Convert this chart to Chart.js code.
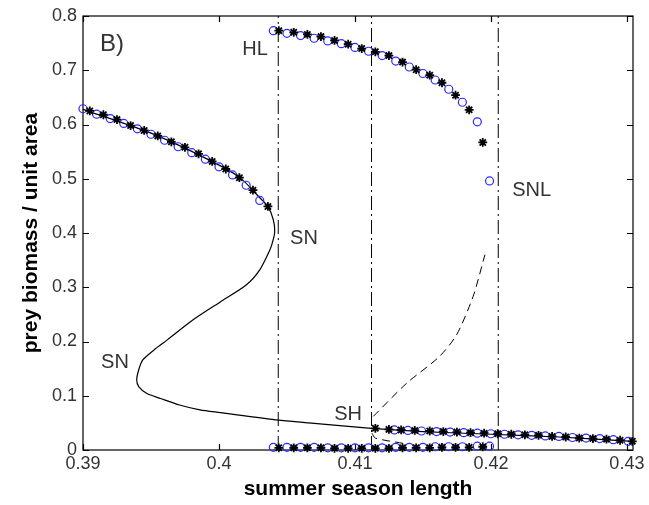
<!DOCTYPE html>
<html>
<head>
<meta charset="utf-8">
<script src="https://cdn.jsdelivr.net/npm/chart.js@4/dist/chart.umd.min.js"></script>
<style>
  html, body { margin: 0; padding: 0; background: #fff; }
</style>
</head>
<body>
<canvas id="chart-bif" width="649" height="505"></canvas>
<script>
// --- datos leidos de la figura B) ---

// rama estable superior (izquierda de HL)
const leftCircX = [0.3900, 0.3910, 0.3920, 0.3930, 0.3940, 0.3950, 0.3960, 0.3970, 0.3980, 0.3990, 0.4000, 0.4010, 0.4020, 0.4030];
const leftCircY = [0.629, 0.619, 0.611, 0.602, 0.592, 0.582, 0.571, 0.559, 0.548, 0.536, 0.522, 0.507, 0.488, 0.460];
const leftStarX = [0.3905, 0.3915, 0.3925, 0.3935, 0.3945, 0.3955, 0.3965, 0.3975, 0.3985, 0.3995, 0.4005, 0.4015, 0.4025, 0.4036];
const leftStarY = [0.625, 0.618, 0.609, 0.598, 0.589, 0.579, 0.568, 0.558, 0.546, 0.532, 0.518, 0.502, 0.479, 0.449];

// ciclo limite: maximos (HL -> SNL)
const cycCircX = [0.4040, 0.4050, 0.4060, 0.4070, 0.4080, 0.4090, 0.4100, 0.4110, 0.4120, 0.4130, 0.4140, 0.4150, 0.4159, 0.4169, 0.4179, 0.4190, 0.4199];
const cycCircY = [0.773, 0.768, 0.764, 0.759, 0.754, 0.749, 0.742, 0.735, 0.727, 0.717, 0.706, 0.694, 0.682, 0.665, 0.641, 0.605, 0.496];
const cycStarX = [0.4044, 0.4055, 0.4065, 0.4075, 0.4085, 0.4095, 0.4105, 0.4115, 0.4125, 0.4135, 0.4145, 0.4155, 0.4164, 0.4174, 0.4184, 0.4194];
const cycStarY = [0.773, 0.770, 0.766, 0.762, 0.755, 0.748, 0.740, 0.734, 0.727, 0.715, 0.701, 0.691, 0.677, 0.654, 0.627, 0.567];

// ciclo limite: minimos
const lowCircY = [0.005, 0.005, 0.005, 0.005, 0.004, 0.004, 0.004, 0.004, 0.004, 0.005, 0.005, 0.005, 0.006, 0.006, 0.006, 0.007, 0.007];
const lowStarY = [0.004, 0.004, 0.004, 0.004, 0.003, 0.003, 0.003, 0.003, 0.003, 0.004, 0.004, 0.004, 0.005, 0.005, 0.005, 0.006];

// rama estable inferior derecha (desde SH)
const rightStarX = [0.4115, 0.4125, 0.4134, 0.4144, 0.4155, 0.4165, 0.4175, 0.4185, 0.4195, 0.4205, 0.4215, 0.4225, 0.4235, 0.4245, 0.4255, 0.4265, 0.4275, 0.4285, 0.4295, 0.4304];
const rightStarY = [0.040, 0.038, 0.037, 0.036, 0.035, 0.034, 0.033, 0.032, 0.031, 0.030, 0.029, 0.028, 0.027, 0.025, 0.024, 0.022, 0.021, 0.020, 0.018, 0.016];
const rightCircX = [0.4129, 0.4139, 0.4149, 0.4160, 0.4170, 0.4180, 0.4190, 0.4200, 0.4210, 0.4220, 0.4230, 0.4240, 0.4250, 0.4260, 0.4270, 0.4280, 0.4290, 0.4301];
const rightCircY = [0.037, 0.036, 0.035, 0.034, 0.033, 0.032, 0.031, 0.030, 0.029, 0.028, 0.027, 0.026, 0.025, 0.023, 0.022, 0.021, 0.019, 0.016];

// curva de equilibrio (linea continua, con los dos SN)
const eqX = [0.3900, 0.3950, 0.3990, 0.4015, 0.4030, 0.4036, 0.4040, 0.4041, 0.40395, 0.40375, 0.4030, 0.4020, 0.4001, 0.3981, 0.3962, 0.3952, 0.3944, 0.3941, 0.39395, 0.3941, 0.3947, 0.3957, 0.3971, 0.3986, 0.4001, 0.4044, 0.4070, 0.4112, 0.4150, 0.4200, 0.4250, 0.4304];
const eqY = [0.628, 0.584, 0.538, 0.503, 0.465, 0.449, 0.424, 0.402, 0.384, 0.369, 0.332, 0.304, 0.273, 0.240, 0.203, 0.184, 0.166, 0.148, 0.129, 0.117, 0.104, 0.095, 0.083, 0.074, 0.069, 0.055, 0.049, 0.040, 0.034, 0.029, 0.024, 0.016];

// ciclo inestable (lineas discontinuas)
const unstMaxX = [0.41135, 0.4138, 0.4162, 0.41747, 0.41869, 0.41956];
const unstMaxY = [0.062, 0.123, 0.172, 0.212, 0.283, 0.360];
const unstMinX = [0.41125, 0.4115, 0.4136];
const unstMinY = [0.031, 0.022, 0.012];

// bifurcaciones (lineas verticales): HL, SH, SNL
const vlineX = [0.40436, 0.41122, 0.42054];

// ejes
const xTicks = [0.39, 0.40, 0.41, 0.42, 0.43];
const xTickLabels = ['0.39', '0.4', '0.41', '0.42', '0.43'];
const yTicks = [0, 0.1, 0.2, 0.3, 0.4, 0.5, 0.6, 0.7, 0.8];
const yTickLabels = ['0', '0.1', '0.2', '0.3', '0.4', '0.5', '0.6', '0.7', '0.8'];

// textos sobre el grafico (en coordenadas de datos)
const notas = [
    { text: 'B)',  x: 0.39125, y: 0.748, align: 'left',   size: 24 },
    { text: 'HL',  x: 0.40265, y: 0.739, align: 'center', size: 20 },
    { text: 'SN',  x: 0.40625, y: 0.389, align: 'center', size: 20 },
    { text: 'SN',  x: 0.39235, y: 0.161, align: 'center', size: 20 },
    { text: 'SH',  x: 0.4095,  y: 0.066, align: 'center', size: 20 },
    { text: 'SNL', x: 0.4230,  y: 0.478, align: 'center', size: 20 }
];

const pares = (xs, ys) => xs.map((x, i) => ({ x: x, y: ys[i] }));

const AZUL = '#2a2aff';

function circulos(xs, ys) {
    return {
        data: pares(xs, ys), showLine: false, clip: false,
        pointStyle: 'circle', pointRadius: 4, pointBorderWidth: 1.2,
        pointBorderColor: AZUL, pointBackgroundColor: 'rgba(0,0,0,0)'
    };
}
function estrellas(xs, ys) {
    return {
        data: pares(xs, ys), showLine: false, clip: false,
        pointStyle: 'star', pointRadius: 4.4, pointBorderWidth: 1.8,
        pointBorderColor: '#000', pointBackgroundColor: '#000'
    };
}
function linea(xs, ys, dash, ancho) {
    return {
        data: pares(xs, ys), showLine: true, pointRadius: 0, clip: false,
        borderColor: '#000', borderWidth: ancho, borderDash: dash, tension: 0.25
    };
}

const datasets = [
    estrellas(leftStarX, leftStarY),
    circulos(leftCircX, leftCircY),
    estrellas(cycStarX, cycStarY),
    circulos(cycCircX, cycCircY),
    estrellas(cycStarX, lowStarY),
    circulos(cycCircX, lowCircY),
    estrellas(rightStarX, rightStarY),
    circulos(rightCircX, rightCircY),
    linea(eqX, eqY, [], 1.2),
    linea(unstMaxX, unstMaxY, [8, 5], 1),
    linea(unstMinX, unstMinY, [8, 5], 1)
];
vlineX.forEach(v => {
    const ds = linea([v, v], [0, 0.8], [14, 4, 2, 4], 1);
    ds.tension = 0;
    datasets.push(ds);
});

// caja de ejes con ticks hacia dentro (estilo MATLAB)
const cajaEjes = {
    id: 'cajaEjes',
    beforeDatasetsDraw(chart) {
        const { ctx, chartArea: a, scales: { x, y } } = chart;
        ctx.save();
        ctx.strokeStyle = '#000';
        ctx.lineWidth = 1.2;
        ctx.strokeRect(a.left, a.top, a.right - a.left, a.bottom - a.top);
        ctx.beginPath();
        xTicks.forEach(v => {
            const px = Math.round(x.getPixelForValue(v)) + 0.5;
            ctx.moveTo(px, a.bottom); ctx.lineTo(px, a.bottom - 6);
            ctx.moveTo(px, a.top); ctx.lineTo(px, a.top + 6);
        });
        yTicks.forEach(v => {
            const py = Math.round(y.getPixelForValue(v)) + 0.5;
            ctx.moveTo(a.left, py); ctx.lineTo(a.left + 6, py);
            ctx.moveTo(a.right, py); ctx.lineTo(a.right - 6, py);
        });
        ctx.stroke();
        ctx.restore();
    },
    afterDraw(chart) {
        const { ctx, scales: { x, y } } = chart;
        ctx.save();
        ctx.fillStyle = '#333';
        ctx.textBaseline = 'middle';
        notas.forEach(n => {
            ctx.font = n.size + 'px "Liberation Sans", Arial, sans-serif';
            ctx.textAlign = n.align;
            ctx.fillText(n.text, x.getPixelForValue(n.x), y.getPixelForValue(n.y));
        });
        ctx.restore();
    }
};

const fuenteTicks = { family: '"Liberation Sans", Arial, sans-serif', size: 18 };
const fuenteTitulo = { family: '"Liberation Sans", Arial, sans-serif', size: 21, weight: 'bold' };

new Chart(document.getElementById('chart-bif'), {
    type: 'scatter',
    data: { datasets: datasets },
    options: {
        responsive: false,
        animation: false,
        layout: { padding: { top: 16, right: 16, left: 0, bottom: 0 } },
        plugins: { legend: { display: false }, tooltip: { enabled: false } },
        scales: {
            x: {
                type: 'linear', min: 0.39, max: 0.43045,
                grid: { display: false, drawTicks: false },
                border: { display: false },
                afterBuildTicks: s => { s.ticks = xTicks.map(v => ({ value: v })); },
                afterFit: s => { s.height = 55; s.paddingLeft = 0; s.paddingRight = 0; },
                ticks: {
                    color: '#333', font: fuenteTicks, padding: 3,
                    maxRotation: 0, autoSkip: false,
                    callback: (v, i) => xTickLabels[i]
                },
                title: {
                    display: true, text: 'summer season length', color: '#000',
                    font: fuenteTitulo, padding: { top: 0, bottom: 3 }
                }
            },
            y: {
                type: 'linear', min: 0, max: 0.8,
                grid: { display: false, drawTicks: false },
                border: { display: false },
                afterBuildTicks: s => { s.ticks = yTicks.map(v => ({ value: v })); },
                afterFit: s => { s.width = 83; s.paddingTop = 0; s.paddingBottom = 0; },
                ticks: {
                    color: '#333', font: fuenteTicks, padding: 6, autoSkip: false,
                    callback: (v, i) => yTickLabels[i]
                },
                title: {
                    display: true, text: 'prey biomass / unit area', color: '#000',
                    font: fuenteTitulo, padding: { top: 19, bottom: 0 }
                }
            }
        }
    },
    plugins: [cajaEjes]
});
</script>
</body>
</html>
